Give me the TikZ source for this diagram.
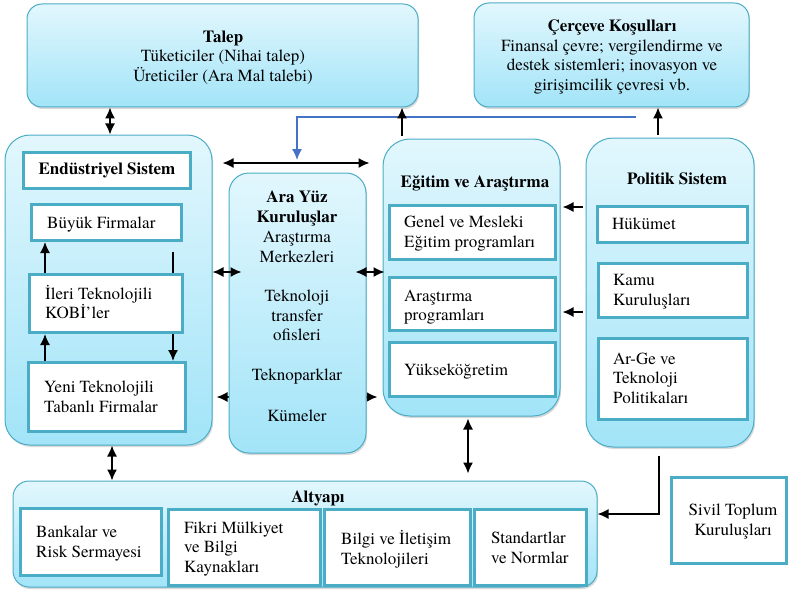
\documentclass[tikz,border=0pt]{standalone}
\usepackage{fontspec}
\setmainfont{TeX Gyre Termes}
\usetikzlibrary{shadows,fit,calc,arrows.meta}
\definecolor{bordc}{HTML}{4BACC6}
\definecolor{topc}{HTML}{E2F7FD}
\definecolor{botc}{HTML}{A2E4F8}
\definecolor{bluel}{HTML}{4472C4}
\begin{document}
\begin{tikzpicture}[x=1pt,y=-1pt,
 rbox/.style={draw=bordc, line width=1pt, top color=topc, bottom color=botc, inner sep=0pt,
   drop shadow={shadow xshift=1.2pt, shadow yshift=-2pt, opacity=0.3}},
 ibox/.style={draw=bordc, line width=3pt, fill=white, inner sep=0pt},
 txt/.style={inner sep=0pt, font=\fontsize{17}{19.5}\selectfont,
   execute at begin node=\strut, execute at end node=\strut},
 dar/.style={line width=1.5pt, {Latex[length=11pt,width=10pt]}-{Latex[length=11pt,width=10pt]}},
 sar/.style={line width=1.5pt, -{Latex[length=11pt,width=10pt]}},
 bar/.style={line width=1.5pt, draw=bluel, -{Latex[length=11pt,width=10pt]}},
]
\useasboundingbox (0,0) rectangle (789,591);

% outer boxes
\node[rbox, rounded corners=15pt, fit={(27,4)(418,107)}] (talep) {};
\node[rbox, rounded corners=15pt, fit={(474,3)(749,107)}] (cerceve) {};
\node[rbox, rounded corners=25pt, fit={(5,135)(212,445)}] (endu) {};
\node[rbox, rounded corners=27pt, fit={(383,139)(560,416)}] (egitim) {};
\node[rbox, rounded corners=27pt, fit={(586,138)(754,447)}] (politik) {};
\node[rbox, rounded corners=16pt, fit={(13,481)(597,587)}] (altyapi) {};

% line behind Ara Yuz
\coordinate (yL) at (0,397);
\draw[dar] ($(yL -| endu.east)+(4,0)$) -- ($(yL -| egitim.west)+(-5,0)$);

\node[rbox, rounded corners=20pt, fit={(229,173)(366,453)}] (arayuz) {};

% texts of outer boxes
\node[txt, align=center] (talept) at (223,59)
  {\textbf{Talep}\\Tüketiciler (Nihai talep)\\Üreticiler (Ara Mal talebi)};
\node[txt, align=center] (cercevet) at (612,58)
  {\textbf{Çerçeve Koşulları}\\Finansal çevre; vergilendirme ve\\destek sistemleri; inovasyon ve\\girişimcilik çevresi vb.};
\node[txt, align=center, font=\fontsize{17}{19.7}\selectfont] (arayuzt) at (297,309.5)
  {\textbf{Ara Yüz}\\\textbf{Kuruluşlar}\\Araştırma\\Merkezleri\\[19.7pt]Teknoloji\\transfer\\ofisleri\\[19.7pt]Teknoparklar\\[22pt]Kümeler};
\node[txt] (egitimt) at (475,184) {\textbf{Eğitim ve Araştırma}};
\node[txt] (politikt) at (677,181) {\textbf{Politik Sistem}};
\node[txt] (altyapit) at (318,499) {\textbf{Altyapı}};

% Endustriyel inner boxes
\node[ibox, fit={(23.5,152.5)(190.5,188.5)}] (endhead) {};
\node[txt] at (endhead.center) {\textbf{Endüstriyel Sistem}};
\node[ibox, fit={(31.5,204.5)(181.5,240.5)}] (buyuk) {};
\node[ibox, fit={(28.5,362.5)(185.5,431.5)}] (yeni) {};
\coordinate (xK2) at (173,0);
\draw[sar] ($(xK2 |- buyuk.south)+(0,10)$) -- (xK2 |- yeni.north);
\node[ibox, fit={(29.5,274.5)(182.5,332.5)}] (kobi) {};
\node[txt, anchor=west] (buyukt) at (47,225) {Büyük Firmalar};
\node[txt, anchor=west, align=left] (kobit) at (45,305) {İleri Teknolojili\\KOBİ’ler};
\node[txt, anchor=west, align=left] (yenit) at (44,399.5) {Yeni Teknolojili\\Tabanlı Firmalar};
\coordinate (xK) at (45,0);
\draw[sar] (xK |- kobi.north) -- (xK |- buyuk.south);
\draw[sar] (xK |- yeni.north) -- (xK |- kobi.south);

% Egitim inner boxes
\node[ibox, fit={(389.5,205.5)(555.5,259.5)}] (genel) {};
\node[ibox, fit={(389.5,277.5)(555.5,330.5)}] (arastirma) {};
\node[ibox, fit={(389.5,342.5)(555.5,396.5)}] (yuksek) {};
\node[txt, anchor=west, align=left] (genelt) at (404,234.5) {Genel ve Mesleki\\Eğitim programları};
\node[txt, anchor=west, align=left] (arastirmat) at (404,308) {Araştırma\\programları};
\node[txt, anchor=west] (yuksekt) at (404,372) {Yükseköğretim};

% Politik inner boxes
\node[ibox, fit={(597.5,206.5)(747.5,242.5)}] (hukumet) {};
\node[ibox, fit={(598.5,263.5)(747.5,317.5)}] (kamu) {};
\node[ibox, fit={(598.5,338.5)(747.5,419.5)}] (arge) {};
\node[txt, anchor=west] (hukumett) at (612,226) {Hükümet};
\node[txt, anchor=west, align=left] (kamut) at (613,293) {Kamu\\Kuruluşları};
\node[txt, anchor=west, align=left] (arget) at (613,381) {Ar-Ge ve\\Teknoloji\\Politikaları};

% Altyapi inner boxes
\node[ibox, fit={(20.5,508.5)(161.5,575.5)}] (banka) {};
\node[ibox, fit={(168.5,509.5)(320.5,585.5)}] (fikri) {};
\node[ibox, fit={(324.5,509.5)(470.5,585.5)}] (bilgi) {};
\node[ibox, fit={(474.5,509.5)(586.5,585.5)}] (standart) {};
\node[txt, anchor=west, align=left] (bankat) at (36,544.5) {Bankalar ve\\Risk Sermayesi};
\node[txt, anchor=west, align=left] (fikrit) at (184,550) {Fikri Mülkiyet\\ve Bilgi\\Kaynakları};
\node[txt, anchor=west, align=left] (bilgit) at (341,550.5) {Bilgi ve İletişim\\Teknolojileri};
\node[txt, anchor=west, align=left] (standartt) at (491,550.5) {Standartlar\\ve Normlar};

% Sivil toplum
\node[ibox, fit={(671.5,477.5)(786,563.5)}] (sivil) {};
\node[txt, align=center] (sivilt) at (733,522.5) {Sivil Toplum\\Kuruluşları};

% connectors
\coordinate (xA) at (110,0);
\draw[dar] (xA |- endu.north) -- (xA |- talep.south);
\coordinate (yH) at (0,163);
\draw[dar] ($(yH -| endu.east)+(10,0)$) -- ($(yH -| egitim.west)+(-13,0)$);
\coordinate (bl1) at (636,117);
\coordinate (bl2) at (297,117);
\coordinate (bl3) at (297,160);
\draw[bar] (bl1) -- (bl2) -- (bl3);
\coordinate (xE) at (402,0);
\draw[sar] ($(xE |- egitim.north)+(0,-3)$) -- (xE |- talep.south);
\coordinate (xP) at (658,0);
\draw[sar] ($(xP |- politik.north)+(0,-3)$) -- (xP |- cerceve.south);
\coordinate (yM) at (0,272);
\draw[dar] (yM -| endu.east) -- ($(yM -| arayuz.west)+(13,0)$);
\draw[dar] ($(yM -| arayuz.east)+(-11,0)$) -- ($(yM -| egitim.west)+(2,0)$);
\coordinate (yP1) at (0,207);
\coordinate (yP2) at (0,312);
\draw[sar] ($(yP1 -| politik.west)+(-3,0)$) -- ($(yP1 -| egitim.east)+(2,0)$);
\draw[sar] ($(yP2 -| politik.west)+(-3,0)$) -- ($(yP2 -| egitim.east)+(2,0)$);
\coordinate (xB) at (468,0);
\draw[dar] ($(xB |- egitim.south)+(0,2)$) -- ($(xB |- altyapi.north)+(0,-7)$);
\coordinate (xC) at (112,0);
\draw[dar] (xC |- endu.south) -- (xC |- altyapi.north);
\coordinate (xD) at (659,0);
\coordinate (yD) at (0,514);
\draw[sar] ($(xD |- politik.south)+(0,8)$) -- (xD |- yD) -- (yD -| altyapi.east);
\end{tikzpicture}
\end{document}
